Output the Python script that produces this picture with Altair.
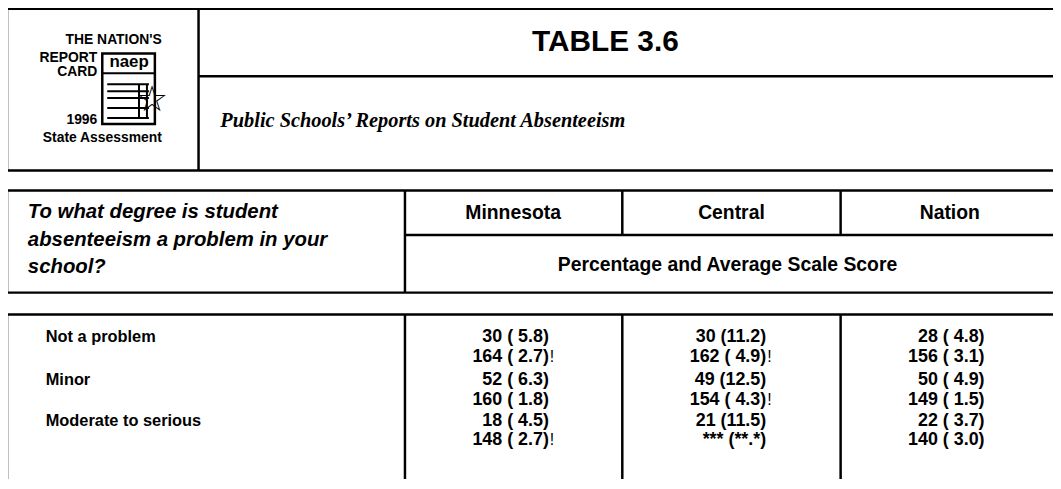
import altair as alt
import pandas as pd

# ---------------- data ----------------
columns = ["Minnesota", "Central", "Nation"]
responses = ["Not a problem", "Minor", "Moderate to serious"]

pct = {"Minnesota": [30, 52, 18], "Central": [30, 49, 21], "Nation": [28, 50, 22]}
pct_se = {"Minnesota": [5.8, 6.3, 4.5], "Central": [11.2, 12.5, 11.5], "Nation": [4.8, 4.9, 3.7]}
score = {"Minnesota": [164, 160, 148], "Central": [162, 154, None], "Nation": [156, 149, 140]}
score_se = {"Minnesota": [2.7, 1.8, 2.7], "Central": [4.9, 4.3, None], "Nation": [3.1, 1.5, 3.0]}
flag = {"Minnesota": ["!", "", "!"], "Central": ["!", "!", ""], "Nation": ["", "", ""]}

title = "TABLE 3.6"
subtitle = "Public Schools\u2019 Reports on Student Absenteeism"
question = ["To what degree is student", "absenteeism a problem in your", "school?"]
subheader = "Percentage and Average Scale Score"
logo_lines = ["THE NATION'S", "REPORT", "CARD", "1996", "State Assessment"]

# ---------------- layout (page pixels) ----------------
W, H = 1053, 471
X0, Y0 = 8, 8
xs = alt.Scale(domain=[X0, X0 + W], range=[0, W])
ys = alt.Scale(domain=[Y0 + H, Y0], range=[H, 0])  # page y grows downward

R = 1061
col_left = [408, 627, 847]
col_center = [517, 737, 957]
BOT = 489

segs = [
    # top box
    (7, 7, R, 7), (7, 7, 7, 170), (7, 170, R, 170), (200, 7, 200, 170), (200, 75, R, 75),
    # header box
    (7, 190, R, 190), (7, 190, 7, 293), (7, 293, R, 293), (408, 190, 408, 293),
    (408, 235, R, 235), (627, 190, 627, 235), (847, 190, 847, 235),
    # data box
    (7, 315, R, 315), (7, 315, 7, BOT), (408, 315, 408, BOT), (627, 315, 627, BOT), (847, 315, 847, BOT),
]
seg_df = pd.DataFrame(segs, columns=["x", "y", "x2", "y2"])

rules = alt.Chart(seg_df).mark_rule(color="black", strokeWidth=2.5, clip=False).encode(
    x=alt.X("x:Q", scale=xs, axis=None), x2="x2:Q",
    y=alt.Y("y:Q", scale=ys, axis=None), y2="y2:Q",
)


def txt(df, size, weight="bold", align="left", font="Liberation Sans", style="normal", color="black"):
    return alt.Chart(df).mark_text(
        align=align, baseline="middle", font=font, fontSize=size, fontWeight=weight,
        fontStyle=style, color=color, clip=False,
    ).encode(
        x=alt.X("x:Q", scale=xs, axis=None),
        y=alt.Y("y:Q", scale=ys, axis=None),
        text="t:N",
    )


layers = [rules]

# title & subtitle
layers.append(txt(pd.DataFrame({"x": [610], "y": [41], "t": [title]}), 30, align="center"))
layers.append(txt(pd.DataFrame({"x": [222], "y": [120], "t": [subtitle]}), 20.5,
                  font="Liberation Serif", style="italic"))

# logo
logo_df = pd.DataFrame({
    "x": [163, 98, 98, 98, 163],
    "y": [38, 57, 71, 119, 137],
    "t": logo_lines,
})
layers.append(txt(logo_df, 14, align="right", font="Liberation Sans"))
icon_box = pd.DataFrame({"x": [103], "y": [52], "x2": [156], "y2": [123]})
layers.append(alt.Chart(icon_box).mark_rect(fill="white", stroke="black", strokeWidth=2.5, clip=False).encode(
    x=alt.X("x:Q", scale=xs, axis=None), x2="x2:Q",
    y=alt.Y("y:Q", scale=ys, axis=None), y2="y2:Q"))
layers.append(txt(pd.DataFrame({"x": [130], "y": [61], "t": ["naep"]}), 17, align="center",
                  font="Liberation Sans"))
icon_lines = pd.DataFrame({
    "x": [103, 108, 108, 108, 108, 108, 140, 148],
    "y": [72, 83, 90, 97, 107, 117, 83, 83],
    "x2": [156, 150, 150, 150, 150, 150, 140, 148],
    "y2": [72, 83, 90, 97, 107, 117, 117, 117],
})
layers.append(alt.Chart(icon_lines).mark_rule(color="black", strokeWidth=2, clip=False).encode(
    x=alt.X("x:Q", scale=xs, axis=None), x2="x2:Q",
    y=alt.Y("y:Q", scale=ys, axis=None), y2="y2:Q"))
layers.append(txt(pd.DataFrame({"x": [153], "y": [99], "t": ["\u2606"]}), 36, align="center",
                  font="DejaVu Sans", weight="bold"))

# question header
q_df = pd.DataFrame({"x": [28] * 3, "y": [212, 240, 267], "t": question})
layers.append(txt(q_df, 20.5, style="italic"))

# column headers
h_df = pd.DataFrame({"x": col_center, "y": [213] * 3, "t": columns})
layers.append(txt(h_df, 19.5, align="center"))
layers.append(txt(pd.DataFrame({"x": [733], "y": [265], "t": [subheader]}), 19.5, align="center"))

# rows
row_y = [338, 381, 422]
line_gap = 20
layers.append(txt(pd.DataFrame({"x": [46] * 3, "y": row_y, "t": responses}), 16.5))

cells = []
flags = []
for ci, c in enumerate(columns):
    rx = col_left[ci] + 145
    for ri in range(3):
        y1 = row_y[ri]
        y2 = y1 + line_gap
        cells.append((rx, y1, f"{pct[c][ri]} ({pct_se[c][ri]:4.1f})"))
        if score[c][ri] is None:
            cells.append((rx, y2, "*** (**.*)"))
        else:
            cells.append((rx, y2, f"{score[c][ri]} ({score_se[c][ri]:4.1f})"))
        if flag[c][ri]:
            flags.append((rx + 1, y2, flag[c][ri]))
cell_df = pd.DataFrame(cells, columns=["x", "y", "t"])
layers.append(txt(cell_df, 18, align="right", font="Liberation Sans"))
flag_df = pd.DataFrame(flags, columns=["x", "y", "t"])
layers.append(txt(flag_df, 16, align="left", weight="normal"))

chart = alt.layer(*layers).properties(
    width=W, height=H, padding=0, autosize=alt.AutoSizeParams(type="none"),
    background="white",
).configure_view(stroke=None)

chart.save("out.html", embed_options={"renderer": "svg", "actions": False})
